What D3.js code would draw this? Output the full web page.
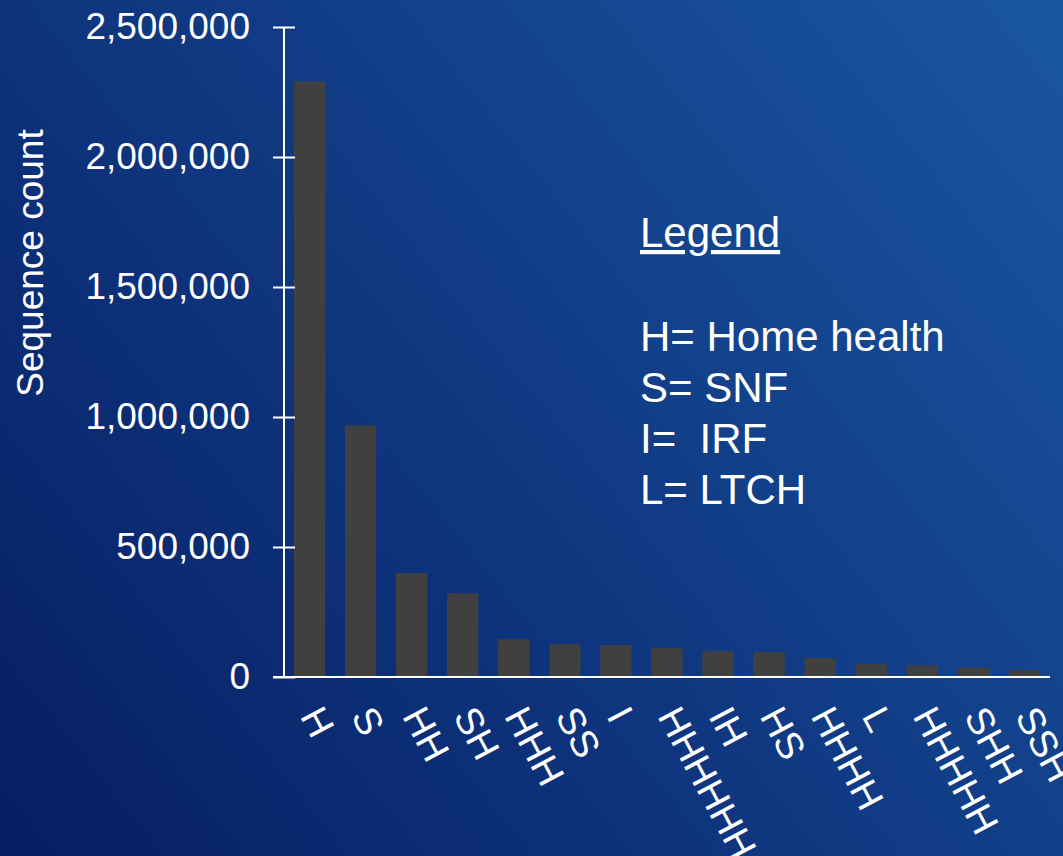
<!DOCTYPE html>
<html>
<head>
<meta charset="utf-8">
<script src="https://cdn.jsdelivr.net/npm/d3@7"></script>
<style>
  html, body { margin: 0; padding: 0; background: #0b2468; }
  svg { display: block; }
  text { font-family: "Liberation Sans", Arial, sans-serif; fill: #ffffff; }
</style>
</head>
<body>
<svg id="chart" width="1063" height="856"></svg>
<script>
// Post-acute care sequences and how often each occurs
const categories = ["H", "S", "HH", "SH", "HHH", "SS", "I", "HHHHHH", "IH", "HS", "HHHH", "L", "HHHHH", "SHH", "SSH"];
const counts = [2290000, 968000, 400000, 322000, 145000, 126000, 123000, 112000, 99000, 95000, 73000, 50000, 45000, 36000, 27000];
const yTicks = [0, 500000, 1000000, 1500000, 2000000, 2500000];
const legendTitle = "Legend";
const legendLines = ["H= Home health", "S= SNF", "I=\u00a0 IRF", "L= LTCH"];
const yTitle = "Sequence count";

const W = 1063, H = 856;
const svg = d3.select("#chart");

// background wash, dark navy in the lower left to brighter blue in the upper right
const defs = svg.append("defs");
const grad = defs.append("linearGradient")
  .attr("id", "bg").attr("gradientUnits", "userSpaceOnUse")
  .attr("x1", 0).attr("y1", H).attr("x2", W).attr("y2", 0);
grad.append("stop").attr("offset", 0).attr("stop-color", "#061d63");
grad.append("stop").attr("offset", 1).attr("stop-color", "#1a56a2");
svg.append("rect").attr("width", W).attr("height", H).attr("fill", "url(#bg)");

const plot = { left: 284, right: 1050, top: 27, bottom: 677 };

const x = d3.scaleBand()
  .domain(categories)
  .range([plot.left, plot.right])
  .paddingInner(0.387)
  .paddingOuter(0.387 / 2);

const y = d3.scaleLinear()
  .domain([0, 2500000])
  .range([plot.bottom, plot.top]);

// bars
svg.append("g").selectAll("rect")
  .data(categories.map((c, i) => ({ c, v: counts[i] })))
  .join("rect")
  .attr("x", d => x(d.c))
  .attr("width", x.bandwidth())
  .attr("y", d => y(d.v))
  .attr("height", d => y(0) - y(d.v))
  .attr("fill", "#404040");

// y axis: line, ticks crossing the axis, and labels
const yAxis = d3.axisLeft(y)
  .tickValues(yTicks)
  .tickSize(0)
  .tickPadding(34)
  .tickFormat(d3.format(","));
const ya = svg.append("g").attr("transform", `translate(${plot.left},0)`).call(yAxis);
ya.select(".domain").remove();
ya.selectAll(".tick text")
  .attr("fill", "#fff")
  .style("font-size", "37px")
  .style("font-family", '"Liberation Sans", Arial, sans-serif');
ya.selectAll(".tick").append("line")
  .attr("x1", -11).attr("x2", 11)
  .attr("stroke", "#fff").attr("stroke-width", 2);
ya.append("line")
  .attr("x1", 0).attr("x2", 0)
  .attr("y1", y(2500000)).attr("y2", y(0))
  .attr("stroke", "#fff").attr("stroke-width", 2);

// x axis baseline
svg.append("line")
  .attr("x1", plot.left - 11).attr("x2", plot.right)
  .attr("y1", y(0)).attr("y2", y(0))
  .attr("stroke", "#fff").attr("stroke-width", 2);

// rotated category labels
const labelAngle = 62;
svg.append("g").selectAll("text")
  .data(categories)
  .join("text")
  .attr("transform", d => `translate(${x(d) + x.bandwidth() / 2 - 10},716) rotate(${labelAngle})`)
  .attr("text-anchor", "start")
  .style("font-size", "38px")
  .text(d => d);

// y axis title
svg.append("text")
  .attr("transform", `translate(43,263) rotate(-90)`)
  .attr("text-anchor", "middle")
  .style("font-size", "37px")
  .text(yTitle);

// legend block
svg.append("text")
  .attr("x", 640).attr("y", 247)
  .style("font-size", "42px")
  .style("text-decoration", "underline")
  .text(legendTitle);
svg.append("g").selectAll("text")
  .data(legendLines)
  .join("text")
  .attr("x", 640)
  .attr("y", (d, i) => 351 + i * 51)
  .style("font-size", "42px")
  .text(d => d);
</script>
</body>
</html>
